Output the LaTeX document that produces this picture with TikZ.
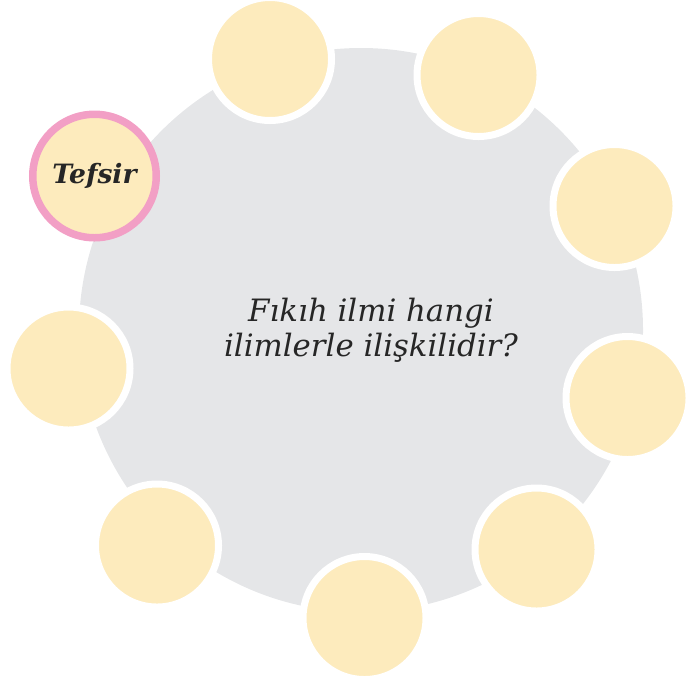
\documentclass[tikz,border=0pt]{standalone}
\usepackage{fontspec}
\setmainfont{DejaVu Serif}
\definecolor{discgray}{HTML}{E5E6E8}
\definecolor{cream}{HTML}{FDEBBD}
\definecolor{tefsirpink}{HTML}{F29FC5}
\begin{document}
\begin{tikzpicture}[x=0.5pt,y=-0.5pt,
    bubble/.style={circle,fill=cream,draw=white,line width=3.5pt,minimum size=61.5pt,inner sep=0pt}]
    \useasboundingbox (0,0) rectangle (688,681);

    % big disc
    \node[circle,fill=discgray,minimum size=282pt,inner sep=0pt] (disc) at (361,330) {};
    \node[align=center,font=\itshape\fontsize{15.4}{17.5}\selectfont,text=black!85] (question) at (371,330)
      {F\i k\i h ilmi hangi\\ilimlerle ili\c{s}kilidir?};

    % bubbles round the disc
    \node[bubble] (b1) at (270,59) {};
    \node[bubble] (b2) at (478.5,75) {};
    \node[bubble] (b3) at (614.5,206) {};
    \node[bubble] (b4) at (627.5,398) {};
    \node[bubble] (b5) at (536.5,549.5) {};
    \node[bubble] (b6) at (364.5,618) {};
    \node[bubble] (b7) at (157,545.5) {};
    \node[bubble] (b8) at (68.5,368.5) {};
    \node[bubble,draw=tefsirpink,line width=3.75pt,minimum size=61.75pt,
      font=\bfseries\itshape\fontsize{13.3}{15}\selectfont,text=black!85] (tefsir) at (94.5,176) {Tefsir};
\end{tikzpicture}
\end{document}
